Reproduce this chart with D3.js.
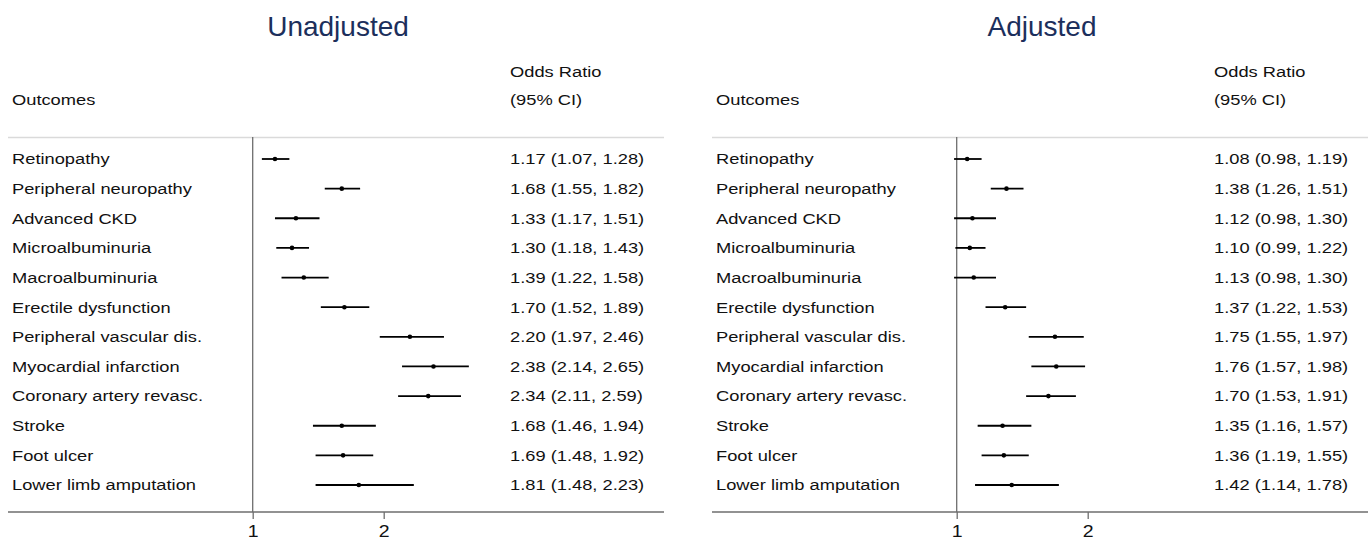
<!DOCTYPE html>
<html lang="en">
<head>
<meta charset="utf-8">
<title>Forest plots</title>
<script src="https://cdn.jsdelivr.net/npm/d3@7"></script>
<style>
  body { margin: 0; background: #fff; }
  text { font-family: "Liberation Sans", Arial, sans-serif; }
</style>
</head>
<body>
<script>
// outcomes
var outcomes = ["Retinopathy", "Peripheral neuropathy", "Advanced CKD", "Microalbuminuria",
  "Macroalbuminuria", "Erectile dysfunction", "Peripheral vascular dis.", "Myocardial infarction",
  "Coronary artery revasc.", "Stroke", "Foot ulcer", "Lower limb amputation"];

// unadjusted odds ratios
var unadjOR = [1.17, 1.68, 1.33, 1.30, 1.39, 1.70, 2.20, 2.38, 2.34, 1.68, 1.69, 1.81];
var unadjLo = [1.07, 1.55, 1.17, 1.18, 1.22, 1.52, 1.97, 2.14, 2.11, 1.46, 1.48, 1.48];
var unadjHi = [1.28, 1.82, 1.51, 1.43, 1.58, 1.89, 2.46, 2.65, 2.59, 1.94, 1.92, 2.23];

// adjusted odds ratios
var adjOR = [1.08, 1.38, 1.12, 1.10, 1.13, 1.37, 1.75, 1.76, 1.70, 1.35, 1.36, 1.42];
var adjLo = [0.98, 1.26, 0.98, 0.99, 0.98, 1.22, 1.55, 1.57, 1.53, 1.16, 1.19, 1.14];
var adjHi = [1.19, 1.51, 1.30, 1.22, 1.30, 1.53, 1.97, 1.98, 1.91, 1.57, 1.55, 1.78];

var xTicks = [1, 2];

var w = 1370, h = 542;
var fs = 15;
var sx = 1.22; // reference type is a bit wide
var svg = d3.select("body").append("svg").attr("width", w).attr("height", h);

var fmt = d3.format(".2f");

var y = d3.scalePoint().domain(outcomes).range([159, 485]);

function label(g, x, yy, str) {
  return g.append("text")
    .attr("transform", "translate(" + x + "," + yy + ") scale(" + sx + ",1)")
    .attr("font-size", fs).attr("fill", "#111").text(str);
}

function panel(title, offset, est, lo, hi) {
  var g = svg.append("g").attr("transform", "translate(" + offset + ",0)");
  var x = d3.scaleLinear().domain([1, 2]).range([252.7, 383.7]);

  g.append("text").attr("x", 338).attr("y", 36).attr("text-anchor", "middle")
    .attr("font-size", 28).attr("fill", "#1c2f5c").text(title);

  label(g, 12, 105, "Outcomes");
  label(g, 510, 77, "Odds Ratio");
  label(g, 510, 105, "(95% CI)");

  // top separator
  g.append("line").attr("x1", 8).attr("x2", 664).attr("y1", 137.5).attr("y2", 137.5)
    .attr("stroke", "#dadada").attr("stroke-width", 1.5);

  // axis
  var axis = d3.axisBottom(x).tickValues(xTicks).tickFormat(d3.format("d")).tickSize(7).tickSizeOuter(0);
  var ax = g.append("g").attr("transform", "translate(0,512)").call(axis);
  ax.select(".domain").remove();
  ax.selectAll(".tick line").attr("stroke", "#6e6e6e").attr("stroke-width", 1.3);
  ax.selectAll(".tick text").attr("font-size", 16).attr("fill", "#111").attr("dy", "0.95em")
    .attr("transform", "scale(" + sx + ",1)")
    .style("font-family", "'Liberation Sans', Arial, sans-serif");
  g.append("line").attr("x1", 8).attr("x2", 664).attr("y1", 512).attr("y2", 512)
    .attr("stroke", "#6e6e6e").attr("stroke-width", 1.3);

  // null line
  g.append("line").attr("x1", x(1)).attr("x2", x(1)).attr("y1", 137).attr("y2", 512)
    .attr("stroke", "#6e6e6e").attr("stroke-width", 1.3);

  var rows = g.selectAll("g.row").data(outcomes).enter().append("g").attr("class", "row");

  rows.append("text")
    .attr("transform", function(d) { return "translate(12," + y(d) + ") scale(" + sx + ",1)"; })
    .attr("dy", "0.36em").attr("font-size", fs).attr("fill", "#111")
    .text(function(d) { return d; });

  rows.append("text")
    .attr("transform", function(d) { return "translate(510," + y(d) + ") scale(" + sx + ",1)"; })
    .attr("dy", "0.36em").attr("font-size", fs).attr("fill", "#111")
    .text(function(d, i) { return fmt(est[i]) + " (" + fmt(lo[i]) + ", " + fmt(hi[i]) + ")"; });

  rows.append("line")
    .attr("x1", function(d, i) { return x(lo[i]); })
    .attr("x2", function(d, i) { return x(hi[i]); })
    .attr("y1", function(d) { return y(d); })
    .attr("y2", function(d) { return y(d); })
    .attr("stroke", "#000").attr("stroke-width", 1.8);

  rows.append("circle")
    .attr("cx", function(d, i) { return x(est[i]); })
    .attr("cy", function(d) { return y(d); })
    .attr("r", 2.3).attr("fill", "#000");
}

panel("Unadjusted", 0, unadjOR, unadjLo, unadjHi);
panel("Adjusted", 704, adjOR, adjLo, adjHi);
</script>
</body>
</html>
